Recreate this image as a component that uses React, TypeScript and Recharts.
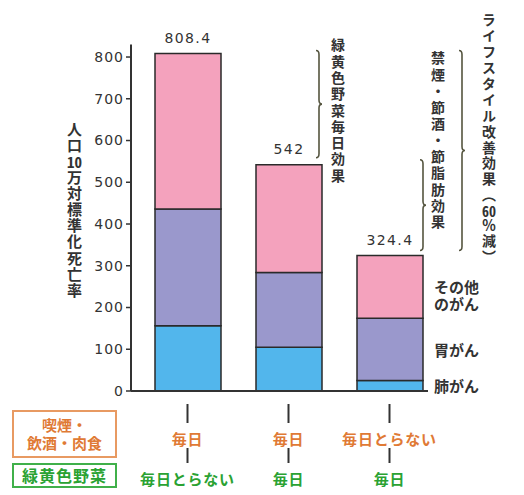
import { BarChart, Bar, XAxis, YAxis, LabelList } from 'recharts';

const categories = ['A', 'B', 'C'];
const lungValues = [156, 105, 25];
const stomachValues = [280, 179, 149];
const otherValues = [372.4, 258, 150.4];
const totals = [808.4, 542, 324.4];
const habitLabels = ['毎日', '毎日', '毎日とらない'];
const vegLabels = ['毎日とらない', '毎日', '毎日'];
const segmentNames = ['肺がん', '胃がん', 'その他\nのがん'];
const yTicks = [0, 100, 200, 300, 400, 500, 600, 700, 800];

const data = categories.map((name, i) => ({
    name,
    lung: lungValues[i],
    stomach: stomachValues[i],
    other: otherValues[i],
    total: totals[i],
}));

const JP = '"Noto Sans CJK JP", sans-serif';
const NUM = '"DejaVu Sans", sans-serif';
const ORANGE = '#e07a35';
const GREEN = '#2aa232';
const INK = '#333';
const BRACE = '#55553f';

// chart geometry (used for the annotations outside recharts)
const PLOT_TOP = 44.5;
const PLOT_BOTTOM = 391;
const Y_MAX = 830;
const yOf = (v: number) => PLOT_BOTTOM - (v * (PLOT_BOTTOM - PLOT_TOP)) / Y_MAX;

const CatTick = (props: any) => {
    const { x, y, payload } = props;
    const i = payload.index;
    return (
        <g>
            <line x1={x} x2={x} y1={y + 13} y2={y + 32} stroke={INK} strokeWidth={2} />
            <text x={x} y={y + 47} textAnchor="middle" dominantBaseline="central" fontWeight="bold"
                fontFamily={JP} fontSize={15} letterSpacing={0.8} fill={ORANGE}>{habitLabels[i]}</text>
            <line x1={x} x2={x} y1={y + 57} y2={y + 72} stroke={INK} strokeWidth={2} />
            <text x={x} y={y + 87} textAnchor="middle" dominantBaseline="central" fontWeight="bold"
                fontFamily={JP} fontSize={15} letterSpacing={0.8} fill={GREEN}>{vegLabels[i]}</text>
        </g>
    );
};

const segLabel = (k: number) => (p: any) => {
    if (p.index !== categories.length - 1) return null;
    const lines = segmentNames[k].split('\n');
    const cx = Number(p.x) + Number(p.width) + 11;
    const cy = Number(p.y) + Number(p.height) / 2;
    return (
        <text x={cx} y={cy} fontFamily={JP} fontSize={15} fontWeight="bold" fill={INK}>
            {lines.map((l, j) => (
                <tspan key={j} x={cx} y={cy + j * 17} dominantBaseline="central">{l}</tspan>
            ))}
        </text>
    );
};

const totalLabel = (p: any) => (
    <text x={Number(p.x) + Number(p.width) / 2} y={Number(p.y) - 11} textAnchor="middle"
        fontFamily={NUM} fontSize={14} letterSpacing={1.4} fill={INK}>{totals[p.index]}</text>
);

const brace = (x: number, top: number, bottom: number) => {
    const mid = (top + bottom) / 2;
    return `M${x - 3},${top} Q${x},${top} ${x},${top + 4} L${x},${mid - 4} Q${x},${mid} ${x + 3},${mid}` +
        ` Q${x},${mid} ${x},${mid + 4} L${x},${bottom - 4} Q${x},${bottom} ${x - 3},${bottom}`;
};

const vText = (left: number, top: number, size: number, spacing: number): any => ({
    position: 'absolute',
    left,
    top,
    writingMode: 'vertical-rl',
    fontFamily: JP,
    fontSize: size,
    fontWeight: 'bold',
    lineHeight: 1,
    letterSpacing: spacing,
    color: INK,
    whiteSpace: 'nowrap',
});

const combo: any = { textCombineUpright: 'all' };

const App = () => {
    return (
        <div style={{ position: 'absolute', left: 0, top: 0, width: 524, height: 495, background: '#fff' }}>
            <BarChart width={524} height={495} data={data} margin={{ top: PLOT_TOP, right: 96, left: 0, bottom: 0 }}>
                <XAxis dataKey="name" height={104} interval={0} tickLine={false} tickSize={0} tickMargin={0}
                    axisLine={{ stroke: INK, strokeWidth: 2 }} padding={{ left: 6, right: -12 }} tick={CatTick} />
                <YAxis width={131} domain={[0, Y_MAX]} ticks={yTicks} interval={0} tickSize={5}
                    axisLine={{ stroke: INK, strokeWidth: 2 }} tickLine={{ stroke: INK, strokeWidth: 1.5 }}
                    tick={{ fontFamily: NUM, fontSize: 14, fill: INK, letterSpacing: 1 }} />
                <Bar dataKey="lung" stackId="a" fill="#52b6ec" stroke="#2a2a2a" strokeWidth={1.5} barSize={66} isAnimationActive={false}>
                    <LabelList content={segLabel(0)} />
                </Bar>
                <Bar dataKey="stomach" stackId="a" fill="#9a98cc" stroke="#2a2a2a" strokeWidth={1.5} barSize={66} isAnimationActive={false}>
                    <LabelList content={segLabel(1)} />
                </Bar>
                <Bar dataKey="other" stackId="a" fill="#f4a2bd" stroke="#2a2a2a" strokeWidth={1.5} barSize={66} isAnimationActive={false}>
                    <LabelList content={segLabel(2)} />
                    <LabelList dataKey="total" content={totalLabel} />
                </Bar>
            </BarChart>

            <svg width={524} height={495} style={{ position: 'absolute', left: 0, top: 0, pointerEvents: 'none' }}>
                <path d={brace(319, yOf(totals[0]) - 3, yOf(totals[1]) - 7)} fill="none" stroke={BRACE} strokeWidth={1.6} />
                <path d={brace(423, yOf(totals[1]) - 5, yOf(totals[2]) - 5)} fill="none" stroke={BRACE} strokeWidth={1.6} />
                <path d={brace(462, yOf(totals[0]) - 3, yOf(totals[2]) - 5)} fill="none" stroke={BRACE} strokeWidth={1.6} />
            </svg>

            <div style={vText(67, 122, 15, 1.2)}>
                人口<span style={combo}>10</span>万対標準化死亡率
            </div>
            <div style={vText(331, 38, 14, 2.3)}>緑黄色野菜毎日効果</div>
            <div style={vText(431, 51, 14, 2.4)}>禁煙・節酒・節脂肪効果</div>
            <div style={vText(482, 13, 14, 1.9)}>
                ライフスタイル改善効果（<span style={combo}>60</span>％減）
            </div>

            <div style={{
                position: 'absolute', left: 12, top: 410, width: 105, height: 48, boxSizing: 'border-box',
                border: '2px solid #e89a62', color: ORANGE, fontFamily: JP, fontSize: 15, fontWeight: 'bold',
                lineHeight: '18px', textAlign: 'center', paddingTop: 4,
            }}>
                喫煙・<br />飲酒・肉食
            </div>
            <div style={{
                position: 'absolute', left: 12, top: 463, width: 105, height: 25, boxSizing: 'border-box',
                border: '2px solid #40b04a', color: GREEN, fontFamily: JP, fontSize: 16, fontWeight: 'bold',
                lineHeight: '21px', textAlign: 'center', letterSpacing: 1,
            }}>
                緑黄色野菜
            </div>
        </div>
    );
};

export default App;
